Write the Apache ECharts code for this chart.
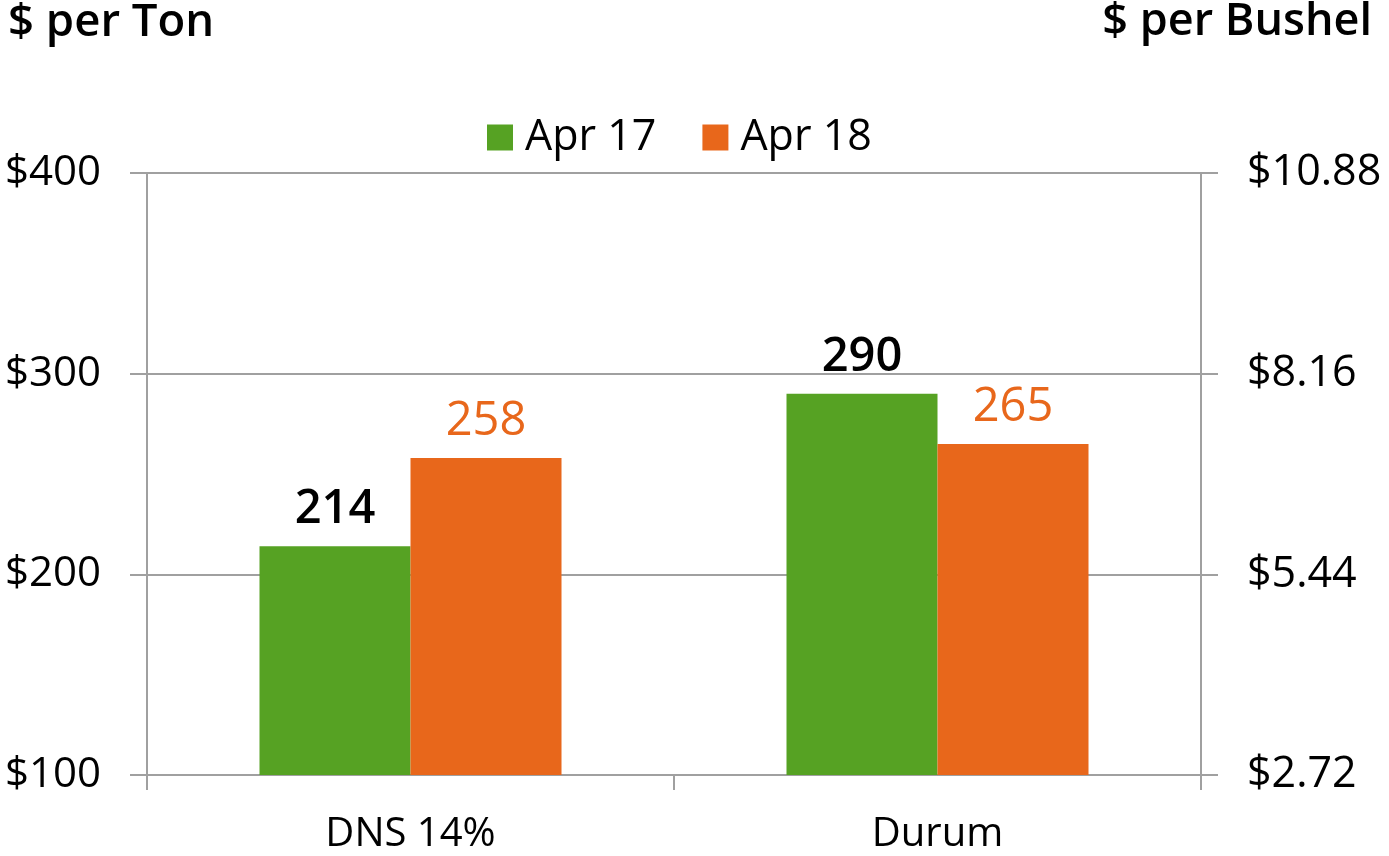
<!DOCTYPE html>
<html>
<head>
<meta charset="utf-8">
<script src="https://cdn.jsdelivr.net/npm/echarts@6/dist/echarts.min.js"></script>
<style>
html,body{margin:0;padding:0;background:#fff;}
#chart{width:1389px;height:856px;}
</style>
</head>
<body>
<div id="chart"></div>
<script>
const categories = ['DNS 14%', 'Durum'];
const seriesNames = ['Apr 17', 'Apr 18'];
const apr17 = [214, 290];
const apr18 = [258, 265];
const leftTicks = [100, 200, 300, 400];
const rightTickLabels = ['$2.72', '$5.44', '$8.16', '$10.88'];
const leftTitle = '$ per Ton';
const rightTitle = '$ per Bushel';

const FONT = '"Open Sans", sans-serif';
const GREEN = '#56a223';
const ORANGE = '#e8671b';
const AXIS = '#a0a0a0';

const chart = echarts.init(document.getElementById('chart'));
chart.setOption({
  animation: false,
  backgroundColor: '#fff',
  textStyle: { fontFamily: FONT },
  title: [
    { text: leftTitle, left: 3, top: -5, textStyle: { fontFamily: FONT, fontSize: 45.5, fontWeight: 600, color: '#000' } },
    { text: rightTitle, right: 12, top: -5, textStyle: { fontFamily: FONT, fontSize: 45, fontWeight: 600, color: '#000' } }
  ],
  legend: {
    left: 482, top: 111,
    itemWidth: 26, itemHeight: 26, itemGap: 46,
    icon: 'rect',
    textStyle: { fontFamily: FONT, fontSize: 43, color: '#000', padding: [0, 0, 0, 7] },
    data: seriesNames
  },
  grid: { left: 147, right: 188, top: 173, bottom: 81, containLabel: false },
  xAxis: {
    type: 'category',
    data: categories,
    axisLine: { lineStyle: { color: AXIS, width: 2 } },
    axisTick: { show: true, length: 15, lineStyle: { color: AXIS, width: 2 } },
    axisLabel: { fontFamily: FONT, fontSize: 40, color: '#000', margin: 40 }
  },
  yAxis: [
    {
      type: 'value', min: 100, max: 400, interval: 100, position: 'left',
      axisLine: { show: true, lineStyle: { color: AXIS, width: 2 } },
      axisTick: { show: true, length: 17, lineStyle: { color: AXIS, width: 2 } },
      splitLine: { show: true, lineStyle: { color: AXIS, width: 2 } },
      axisLabel: { fontFamily: FONT, fontSize: 42, color: '#000', margin: 46, formatter: v => '$' + v }
    },
    {
      type: 'value', min: 100, max: 400, interval: 100, position: 'right',
      axisLine: { show: true, lineStyle: { color: AXIS, width: 2 } },
      axisTick: { show: true, length: 17, lineStyle: { color: AXIS, width: 2 } },
      splitLine: { show: false },
      axisLabel: {
        fontFamily: FONT, fontSize: 43, color: '#000', margin: 46,
        formatter: v => rightTickLabels[leftTicks.indexOf(v)]
      }
    }
  ],
  series: [
    {
      name: seriesNames[0], type: 'bar', data: apr17, barWidth: 151, barGap: '0%',
      itemStyle: { color: GREEN },
      label: { show: true, position: 'top', distance: 13, fontFamily: FONT, fontSize: 47, fontWeight: 600, color: '#000' }
    },
    {
      name: seriesNames[1], type: 'bar', data: apr18, barWidth: 151, barGap: '0%',
      itemStyle: { color: ORANGE },
      label: { show: true, position: 'top', distance: 13, fontFamily: FONT, fontSize: 47, color: ORANGE }
    }
  ]
});
</script>
</body>
</html>
